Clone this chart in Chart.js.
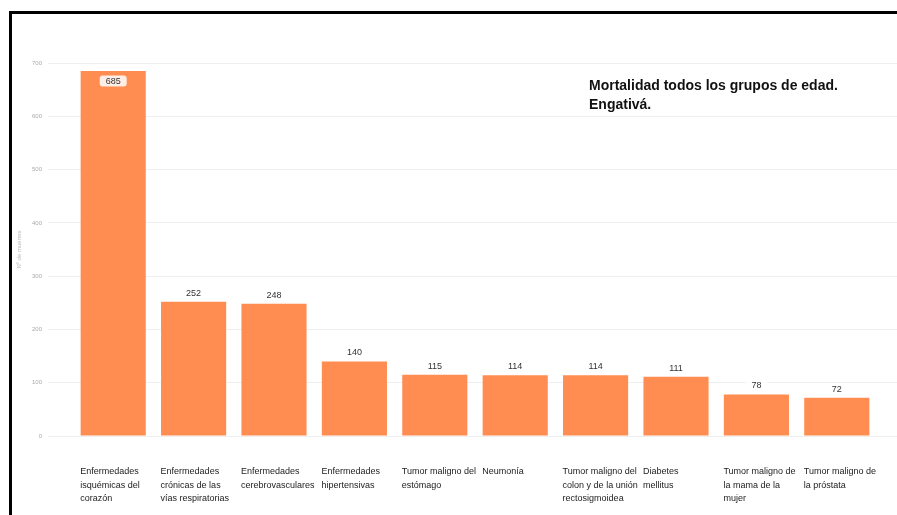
<!DOCTYPE html>
<html><head><meta charset="utf-8">
<script src="https://cdn.jsdelivr.net/npm/chart.js@4/dist/chart.umd.min.js"></script>
<style>
html,body{margin:0;padding:0;background:#fff;}
#wrap{position:relative;width:897px;height:515px;overflow:hidden;}
#c{display:block;}
#frame{position:absolute;left:9px;top:11px;width:1000px;height:1000px;border-left:3px solid #000;border-top:3px solid #000;pointer-events:none;}
#ttl{position:absolute;left:589px;top:76px;font:bold 14px "Liberation Sans",Arial,sans-serif;line-height:19px;color:#111;}
</style></head><body>
<div id="wrap"><canvas id="c" width="897" height="515" style="width:897px;height:515px"></canvas><div id="frame"></div><div id="ttl">Mortalidad todos los grupos de edad.<br>Engativá.</div></div>
<script>
const categories = [
  ["Enfermedades", "isquémicas del", "corazón"],
  ["Enfermedades", "crónicas de las", "vías respiratorias"],
  ["Enfermedades", "cerebrovasculares"],
  ["Enfermedades", "hipertensivas"],
  ["Tumor maligno del", "estómago"],
  ["Neumonía"],
  ["Tumor maligno del", "colon y de la unión", "rectosigmoidea"],
  ["Diabetes", "mellitus"],
  ["Tumor maligno de", "la mama de la", "mujer"],
  ["Tumor maligno de", "la próstata"]
];
const deaths = [685, 252, 248, 140, 115, 114, 114, 111, 78, 72];
const yTickValues = [0, 100, 200, 300, 400, 500, 600, 700];
const yTitle = "Nº de muertes";

const GRID = '#efefef';

const gridExtend = {
  id: 'gridExtend',
  beforeDatasetsDraw(chart) {
    const ctx = chart.ctx, y = chart.scales.y, a = chart.chartArea;
    ctx.save();
    ctx.strokeStyle = GRID; ctx.lineWidth = 1;
    yTickValues.forEach(v => {
      const py = Math.round(y.getPixelForValue(v) - 0.5) + 0.5;
      ctx.beginPath(); ctx.moveTo(a.right, py); ctx.lineTo(chart.width, py); ctx.stroke();
    });
    ctx.restore();
  }
};

const valueLabels = {
  id: 'valueLabels',
  afterDatasetsDraw(chart) {
    const ctx = chart.ctx, meta = chart.getDatasetMeta(0), a = chart.chartArea;
    ctx.save();
    ctx.font = '9px "Liberation Sans", Arial, sans-serif';
    ctx.textAlign = 'center'; ctx.textBaseline = 'middle';
    meta.data.forEach((bar, i) => {
      const txt = String(deaths[i]);
      const w = ctx.measureText(txt).width + 12, h = 11;
      let cy = bar.y - 9;
      if (cy - h / 2 < a.top) cy = bar.y + 10;
      ctx.fillStyle = 'rgba(255,255,255,0.85)';
      ctx.beginPath();
      if (ctx.roundRect) ctx.roundRect(bar.x - w / 2, cy - h / 2, w, h, 3); else ctx.rect(bar.x - w / 2, cy - h / 2, w, h);
      ctx.fill();
      ctx.fillStyle = '#333';
      ctx.fillText(txt, bar.x, cy + 0.5);
    });
    ctx.restore();
  }
};

new Chart(document.getElementById('c'), {
  type: 'bar',
  data: {
    labels: categories,
    datasets: [{
      data: deaths,
      backgroundColor: '#FF8C50',
      borderWidth: 0,
      categoryPercentage: 1,
      barPercentage: 0.81
    }]
  },
  options: {
    responsive: false,
    animation: false,
    layout: { padding: { top: 63, right: 20, bottom: 0, left: 0 } },
    plugins: { legend: { display: false }, tooltip: { enabled: false }, title: { display: false } },
    scales: {
      x: {
        grid: { display: false },
        border: { display: false },
        ticks: {
          autoSkip: false, maxRotation: 0, minRotation: 0,
          align: 'start', labelOffset: -33, padding: 21,
          color: '#222',
          font: { family: '"Liberation Sans", Arial, sans-serif', size: 9, lineHeight: 1.5 }
        },
        afterFit(s) { s.height = 79; s.paddingLeft = 0; s.paddingRight = 0; }
      },
      y: {
        min: 0, max: 700,
        afterBuildTicks(s) { s.ticks = yTickValues.map(v => ({ value: v })); },
        grid: { color: GRID, tickLength: 25, drawTicks: true },
        border: { display: false },
        ticks: { padding: 6, color: '#aaa', font: { family: '"Liberation Sans", Arial, sans-serif', size: 6 } },
        title: { display: true, text: yTitle, color: '#bbb', padding: { top: 16, bottom: 0 }, font: { family: '"Liberation Sans", Arial, sans-serif', size: 6 } },
        afterFit(s) { s.width = 73; }
      }
    }
  },
  plugins: [gridExtend, valueLabels]
});
</script>
</body></html>
